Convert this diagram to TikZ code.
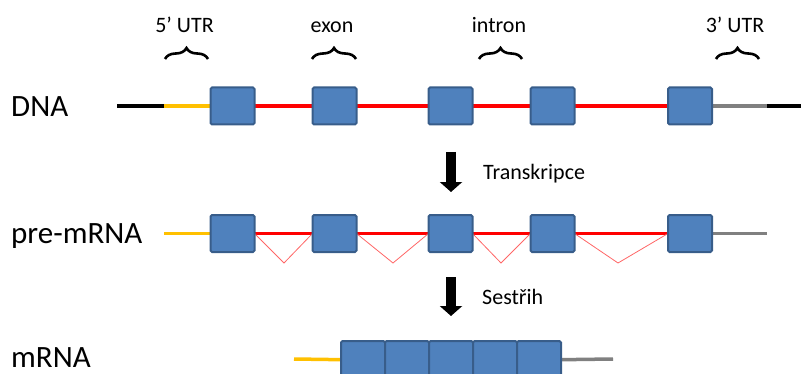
\documentclass[tikz,border=0pt]{standalone}
\usepackage{fontspec}
\setmainfont{Carlito}
\usetikzlibrary{arrows.meta,decorations.pathreplacing,backgrounds}
\definecolor{exonfill}{HTML}{4F81BD}
\definecolor{exonline}{HTML}{385D8A}
\definecolor{utrfive}{HTML}{FFC000}
\definecolor{utrthree}{HTML}{808080}
\begin{document}
\begin{tikzpicture}[x=1pt,y=-1pt,
  exon/.style={draw=exonline, fill=exonfill, line width=2pt, rounded corners=1.5pt,
    minimum width=44pt, minimum height=37pt, inner sep=0pt, outer sep=0pt},
  mexon/.style={exon, minimum height=38pt},
  strand/.style={line width=3.5pt},
  loopline/.style={draw=red!60, line width=0.8pt},
  bigarrow/.style={line width=10pt, -{Triangle[length=10pt,width=22pt]}},
  brc/.style={decorate, decoration={brace, amplitude=11pt}, line width=2.6pt},
  lbl/.style={font=\fontsize{31}{37}\selectfont, anchor=base west, inner sep=0pt},
  small/.style={font=\fontsize{22}{26}\selectfont, inner sep=0pt}]
\useasboundingbox (0,0) rectangle (802,374);

% labels
\node[lbl] (ldna) at (11,117) {DNA};
\node[lbl] (lpre) at (11,243) {pre-mRNA};
\node[lbl] (lm) at (11,367.5) {mRNA};

% top annotations
\node[small, anchor=base] (t5) at (184.5,33) {5’ UTR};
\node[small, anchor=base] (tex) at (332,33) {exon};
\node[small, anchor=base] (tin) at (499,33) {intron};
\node[small, anchor=base] (t3) at (735,33) {3’ UTR};
\draw[brc] (165,59) -- (208,59);
\draw[brc] (312,59) -- (356,59);
\draw[brc] (479,59) -- (522,59);
\draw[brc] (716,59) -- (759,59);

% DNA
\node[exon] (d1) at (232.5,106) {};
\node[exon] (d2) at (334.5,106) {};
\node[exon] (d3) at (450.5,106) {};
\node[exon] (d4) at (552.5,106) {};
\node[exon] (d5) at (690,106) {};
\coordinate (dA) at (117,106);
\coordinate (dB) at (164,106);
\coordinate (dC) at (767,106);
\coordinate (dD) at (801,106);

% pre-mRNA
\node[exon] (p1) at (232.5,233.5) {};
\node[exon] (p2) at (334.5,233.5) {};
\node[exon] (p3) at (450.5,233.5) {};
\node[exon] (p4) at (552.5,233.5) {};
\node[exon] (p5) at (690,233.5) {};
\coordinate (pA) at (164,233.5);
\coordinate (pB) at (767,233.5);
\coordinate (v1) at (284,263);
\coordinate (v2) at (393,263);
\coordinate (v3) at (501,263);
\coordinate (v4) at (618,263);

% mRNA
\node[mexon] (m1) at (363,360) {};
\node[mexon] (m2) at (407,360) {};
\node[mexon] (m3) at (451,360) {};
\node[mexon] (m4) at (495,360) {};
\node[mexon] (m5) at (539,360) {};
\coordinate (mA) at (294,359);
\coordinate (mB) at (613,359);

\begin{scope}[on background layer]
  \draw[strand, black] (dA) -- (dB);
  \draw[strand, utrfive] (dB) -- (d1.center);
  \draw[strand, red] (d1.center) -- (d2.center) -- (d3.center) -- (d4.center) -- (d5.center);
  \draw[strand, utrthree] (d5.center) -- (dC);
  \draw[strand, black] (dC) -- (dD);

  \draw[strand, utrfive] (pA) -- (p1.center);
  \draw[strand, red] (p1.center) -- (p2.center) -- (p3.center) -- (p4.center) -- (p5.center);
  \draw[strand, utrthree] (p5.center) -- (pB);
  \draw[loopline] (p1.east) -- (v1) -- (p2.west);
  \draw[loopline] (p2.east) -- (v2) -- (p3.west);
  \draw[loopline] (p3.east) -- (v3) -- (p4.west);
  \draw[loopline] (p4.east) -- (v4) -- (p5.west);

  \draw[strand, utrfive] (mA) -- (m1.center);
  \draw[strand, utrthree] (m5.center) -- (mB);
\end{scope}

% process arrows
\coordinate (a1s) at (451,152);
\coordinate (a1e) at (451,192);
\coordinate (a2s) at (451,277);
\coordinate (a2e) at (451,316);
\draw[bigarrow] (a1s) -- (a1e);
\draw[bigarrow] (a2s) -- (a2e);
\node[small, anchor=base west] (ttr) at (483,179) {Transkripce};
\node[small, anchor=base west] (tse) at (482,304) {Sestřih};
\end{tikzpicture}
\end{document}
